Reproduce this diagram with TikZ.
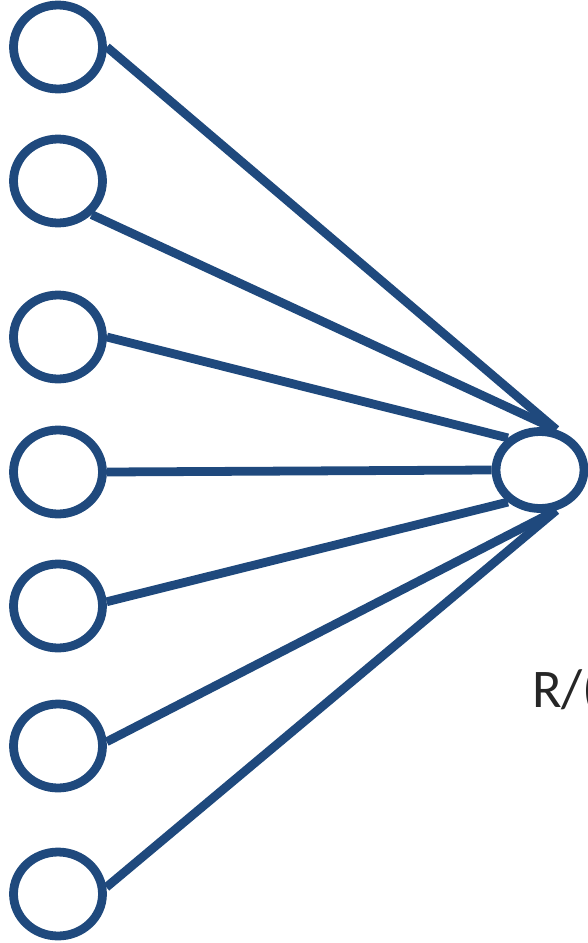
\documentclass[tikz,border=0pt]{standalone}
\usepackage{fontspec}
\usepackage{xcolor}
\usepackage{tikz}
\usetikzlibrary{shapes.geometric}
\newfontfamily\labelfont{Carlito}
\definecolor{netblue}{RGB}{31,73,125}

\begin{document}
\begin{tikzpicture}[x=0.02cm,y=-0.02cm,
    inp/.style={ellipse,draw=netblue,line width=5pt,fill=white,minimum width=1.78cm,minimum height=1.68cm,inner sep=0pt},
    outp/.style={ellipse,draw=netblue,line width=5pt,fill=white,minimum width=1.76cm,minimum height=1.54cm,inner sep=0pt},
    link/.style={draw=netblue,line width=5pt}]
    \useasboundingbox (0,0) rectangle (588,943);
    % Input units
    \node[inp] (i1) at (58,47) {};
    \node[inp] (i2) at (58,181) {};
    \node[inp] (i3) at (58,337) {};
    \node[inp] (i4) at (58,472) {};
    \node[inp] (i5) at (58,606) {};
    \node[inp] (i6) at (58,746) {};
    \node[inp] (i7) at (58,894) {};
    % Output unit
    \node[outp] (out) at (540,470) {};
    % Connections
    \draw[link] (i1.east) -- (out.68);
    \draw[link] (i2.-45) -- (out.68);
    \draw[link] (i3.east) -- (out.135);
    \draw[link] (i4.east) -- (out.west);
    \draw[link] (i5.5) -- (out.225);
    \draw[link] (i6.5) -- (out.-68);
    \draw[link] (i7.8) -- (out.-68);
    % Label
    \node[anchor=base west,inner sep=0pt,text=black!85,font=\labelfont\fontsize{31}{36}\selectfont] (lbl) at (532,707) {R/(};
\end{tikzpicture}
\end{document}
